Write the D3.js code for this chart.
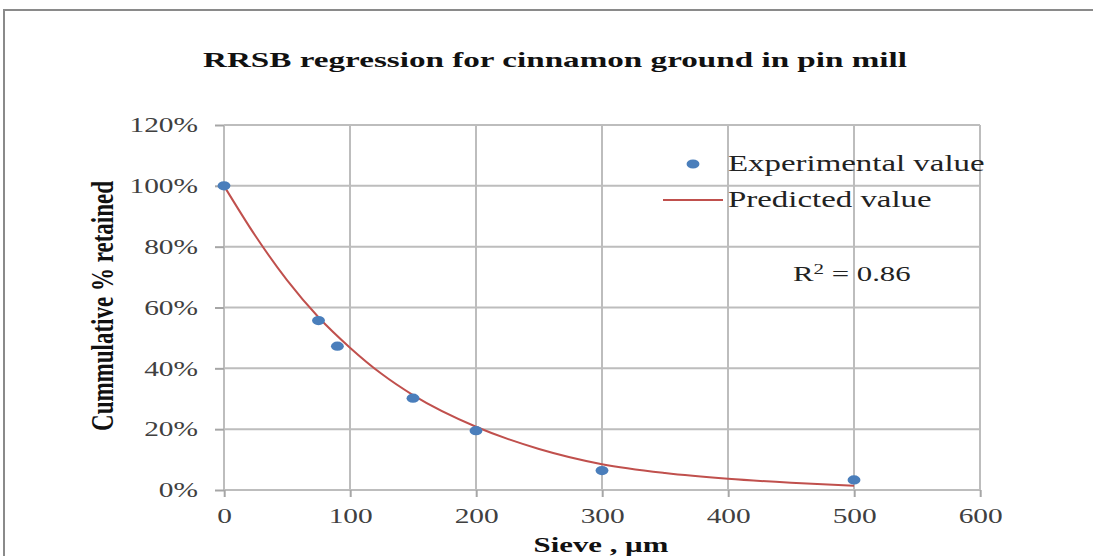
<!DOCTYPE html>
<html>
<head>
<meta charset="utf-8">
<script src="https://cdn.jsdelivr.net/npm/d3@7"></script>
<style>
  body { margin: 0; background: #fff; overflow: hidden; }
  svg { display: block; }
  text { font-family: 'Liberation Serif', 'Times New Roman', serif; }
</style>
</head>
<body>
<svg></svg>
<script>
// data
const sieveSizes = [0, 75, 90, 150, 200, 300, 500]
const experimental = [1.00, 0.557, 0.473, 0.302, 0.195, 0.064, 0.033]

const predSieve = [0, 25, 50, 75, 100, 125, 150, 200, 250, 300, 350, 400, 450, 500]
const predicted = [1.00, 0.835, 0.69, 0.568, 0.468, 0.382, 0.312, 0.208, 0.135, 0.085, 0.056, 0.037, 0.024, 0.014]

const xTicks = [0, 100, 200, 300, 400, 500, 600]
const yTicks = [0, 0.2, 0.4, 0.6, 0.8, 1.0, 1.2]

const width = 1093
const height = 556
// the original picture is stretched sideways, so draw everything in a narrower box
const sx = 1.4
const X = (px) => px / sx

const plot = { left: 224, right: 980, top: 125, bottom: 490 }

const svg = d3.select('svg')
  .attr('width', width)
  .attr('height', height)

const g = svg.append('g')
  .attr('transform', 'scale(' + sx + ',1)')

// outer frame, only top and left edges are inside the picture
g.append('path')
  .attr('d', 'M' + X(4) + ',' + height + 'V10H' + X(width))
  .attr('fill', 'none')
  .attr('stroke', '#8a8a8a')
  .attr('stroke-width', 2)
  .attr('vector-effect', 'non-scaling-stroke')

const xScale = d3.scaleLinear()
  .domain([0, 600])
  .range([X(plot.left), X(plot.right)])

const yScale = d3.scaleLinear()
  .domain([0, 1.2])
  .range([plot.bottom, plot.top])

// gridlines
g.append('g')
  .selectAll('line')
  .data(xTicks)
  .enter()
  .append('line')
  .attr('x1', (d) => xScale(d))
  .attr('x2', (d) => xScale(d))
  .attr('y1', plot.top)
  .attr('y2', plot.bottom)
  .attr('stroke', '#bdbdbd')
  .attr('stroke-width', 2)
  .attr('vector-effect', 'non-scaling-stroke')

g.append('g')
  .selectAll('line')
  .data(yTicks)
  .enter()
  .append('line')
  .attr('x1', X(plot.left))
  .attr('x2', X(plot.right))
  .attr('y1', (d) => yScale(d))
  .attr('y2', (d) => yScale(d))
  .attr('stroke', '#bdbdbd')
  .attr('stroke-width', 2)
  .attr('vector-effect', 'non-scaling-stroke')

// axes
const yAxis = d3.axisLeft(yScale)
  .tickValues(yTicks)
  .tickFormat(d3.format('.0%'))
  .tickSize(X(9))
  .tickPadding(X(17))

const yAxisG = g.append('g')
  .attr('transform', 'translate(' + X(plot.left) + ',0)')
  .call(yAxis)

const xAxis = d3.axisBottom(xScale)
  .tickValues(xTicks)
  .tickSize(7)
  .tickPadding(11)

const xAxisG = g.append('g')
  .attr('transform', 'translate(0,' + plot.bottom + ')')
  .call(xAxis)

;[yAxisG, xAxisG].forEach((a) => {
  a.select('.domain').remove()
  a.selectAll('.tick line')
    .attr('stroke', '#a6a6a6')
    .attr('stroke-width', 2)
    .attr('vector-effect', 'non-scaling-stroke')
  a.selectAll('.tick text')
    .attr('font-family', "'Liberation Serif', 'Times New Roman', serif")
    .attr('font-size', 21)
    .attr('fill', '#404040')
})

// predicted curve
const line = d3.line()
  .x((d, i) => xScale(predSieve[i]))
  .y((d) => yScale(d))
  .curve(d3.curveMonotoneX)

g.append('path')
  .datum(predicted)
  .attr('d', line)
  .attr('fill', 'none')
  .attr('stroke', '#c0504d')
  .attr('stroke-width', 2)
  .attr('vector-effect', 'non-scaling-stroke')

// experimental points
g.append('g')
  .selectAll('circle')
  .data(experimental)
  .enter()
  .append('circle')
  .attr('cx', (d, i) => xScale(sieveSizes[i]))
  .attr('cy', (d) => yScale(d))
  .attr('r', 4.6)
  .attr('fill', '#4a7ebb')

// title
g.append('text')
  .attr('x', X(555))
  .attr('y', 67)
  .attr('text-anchor', 'middle')
  .attr('font-size', 22)
  .attr('font-weight', 'bold')
  .attr('fill', '#111')
  .attr('textLength', X(704))
  .attr('lengthAdjust', 'spacingAndGlyphs')
  .text('RRSB regression for cinnamon ground in pin mill')

// axis titles
g.append('text')
  .attr('x', X(601))
  .attr('y', 552)
  .attr('text-anchor', 'middle')
  .attr('font-size', 22)
  .attr('font-weight', 'bold')
  .attr('fill', '#111')
  .text('Sieve , µm')

g.append('text')
  .attr('transform', 'translate(' + X(113) + ',306) rotate(-90)')
  .attr('text-anchor', 'middle')
  .attr('font-size', 23)
  .attr('font-weight', 'bold')
  .attr('fill', '#111')
  .text('Cummulative % retained')

// legend
const legend = g.append('g')

legend.append('circle')
  .attr('cx', X(693))
  .attr('cy', 164)
  .attr('r', 4.6)
  .attr('fill', '#4a7ebb')

legend.append('text')
  .attr('x', X(728))
  .attr('y', 171)
  .attr('font-size', 23.5)
  .attr('fill', '#222')
  .text('Experimental value')

legend.append('line')
  .attr('x1', X(663))
  .attr('x2', X(723))
  .attr('y1', 200)
  .attr('y2', 200)
  .attr('stroke', '#c0504d')
  .attr('stroke-width', 2)
  .attr('vector-effect', 'non-scaling-stroke')

legend.append('text')
  .attr('x', X(728))
  .attr('y', 207)
  .attr('font-size', 23.5)
  .attr('fill', '#222')
  .text('Predicted value')

// R squared note
const r2 = g.append('text')
  .attr('x', X(793))
  .attr('y', 281)
  .attr('font-size', 22)
  .attr('fill', '#222')
r2.append('tspan').text('R')
r2.append('tspan').attr('font-size', 15).attr('dy', -7).text('2')
r2.append('tspan').attr('dy', 7).text(' = 0.86')
</script>
</body>
</html>
